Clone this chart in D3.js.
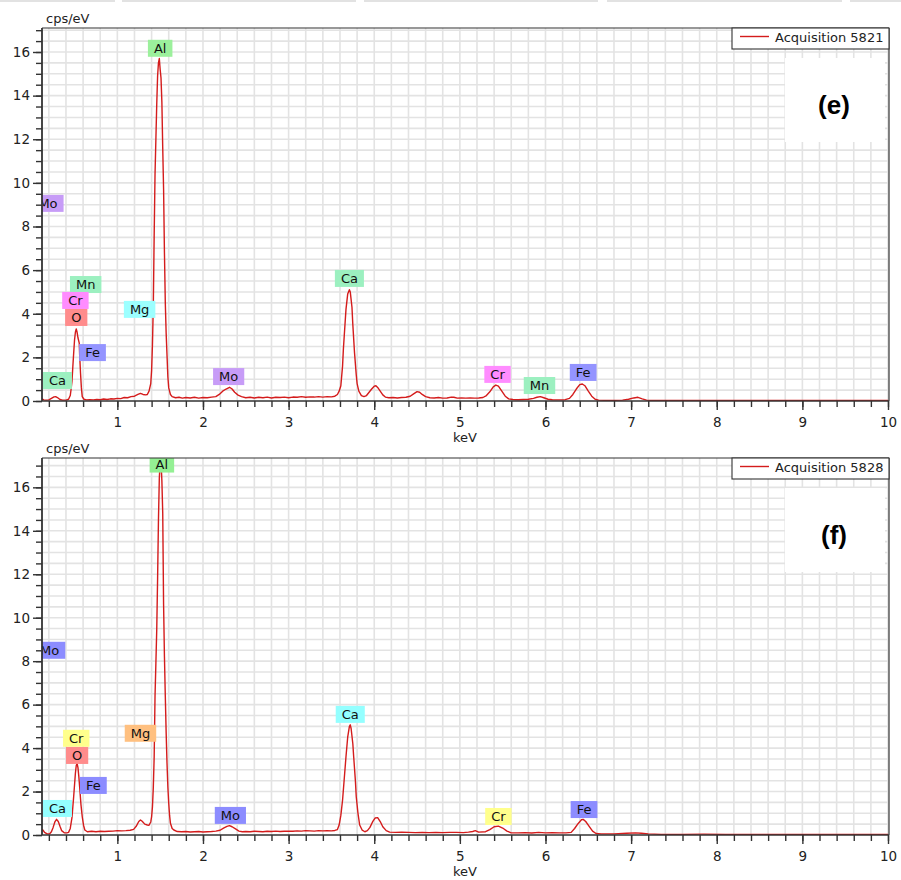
<!DOCTYPE html>
<html>
<head>
<meta charset="utf-8">
<script src="https://cdn.jsdelivr.net/npm/d3@7"></script>
<style>
  body { margin: 0; background: #fff; }
  svg { display: block; font-family: "DejaVu Sans", Verdana, sans-serif; }
</style>
</head>
<body>
<svg id="chart" width="901" height="880"></svg>
<script>
// axis ticks
const xTicks = [1, 2, 3, 4, 5, 6, 7, 8, 9, 10];
const yTicks = [0, 2, 4, 6, 8, 10, 12, 14, 16];

// spectrum (e) : [keV, cps/eV]
const spectrumE = [
  [0.12, 0.10], [0.14, 0.05], [0.17, 0.04], [0.20, 0.05], [0.23, 0.12], [0.26, 0.19], [0.28, 0.20], [0.30, 0.16],
  [0.33, 0.07], [0.36, 0.04], [0.40, 0.04], [0.43, 0.08], [0.45, 0.25], [0.46, 0.55], [0.47, 0.9], [0.48, 1.57],
  [0.49, 2.2], [0.50, 2.8], [0.51, 3.15], [0.52, 3.3], [0.53, 3.15], [0.54, 2.9], [0.555, 2.65], [0.56, 2.1],
  [0.57, 1.27], [0.58, 0.6], [0.59, 0.2], [0.61, 0.08], [0.64, 0.05], [0.68, 0.06], [0.72, 0.05], [0.76, 0.07],
  [0.80, 0.06], [0.84, 0.09], [0.88, 0.07], [0.92, 0.10], [0.96, 0.09], [1.00, 0.12], [1.04, 0.11], [1.08, 0.16],
  [1.12, 0.15], [1.16, 0.20], [1.20, 0.22], [1.24, 0.30], [1.27, 0.35], [1.30, 0.30], [1.33, 0.28], [1.35, 0.30],
  [1.37, 0.45], [1.39, 0.8], [1.40, 1.4], [1.41, 2.6], [1.42, 4.4], [1.43, 7.6], [1.44, 10.4], [1.45, 12.0],
  [1.46, 13.6], [1.47, 14.9], [1.48, 15.5], [1.49, 15.7], [1.50, 15.2], [1.51, 14.8], [1.52, 13.7], [1.53, 11.6],
  [1.54, 9.7], [1.55, 6.8], [1.56, 4.5], [1.57, 3.1], [1.58, 2.1], [1.59, 1.1], [1.60, 0.6], [1.62, 0.3],
  [1.64, 0.2], [1.68, 0.15], [1.72, 0.17], [1.76, 0.13], [1.80, 0.16], [1.85, 0.14], [1.90, 0.17], [1.95, 0.13],
  [2.00, 0.16], [2.05, 0.15], [2.10, 0.18], [2.15, 0.20], [2.19, 0.30], [2.23, 0.45], [2.27, 0.55], [2.31, 0.63],
  [2.34, 0.55], [2.37, 0.40], [2.41, 0.27], [2.45, 0.20], [2.50, 0.15], [2.55, 0.17], [2.60, 0.14], [2.65, 0.17],
  [2.70, 0.15], [2.75, 0.18], [2.80, 0.14], [2.85, 0.17], [2.90, 0.16], [2.95, 0.18], [3.00, 0.15], [3.05, 0.18],
  [3.10, 0.17], [3.15, 0.20], [3.20, 0.17], [3.25, 0.19], [3.30, 0.18], [3.35, 0.20], [3.40, 0.18], [3.45, 0.20],
  [3.50, 0.19], [3.54, 0.22], [3.57, 0.30], [3.59, 0.45], [3.61, 0.7], [3.63, 1.6], [3.64, 2.4], [3.65, 3.0],
  [3.67, 4.2], [3.69, 4.9], [3.71, 5.1], [3.72, 5.0], [3.74, 4.3], [3.75, 3.5], [3.77, 2.2], [3.79, 1.2],
  [3.80, 0.8], [3.82, 0.45], [3.85, 0.25], [3.88, 0.20], [3.91, 0.25], [3.94, 0.40], [3.97, 0.55], [4.00, 0.68],
  [4.02, 0.70], [4.04, 0.62], [4.07, 0.45], [4.10, 0.28], [4.13, 0.18], [4.17, 0.15], [4.22, 0.16], [4.27, 0.14],
  [4.32, 0.16], [4.37, 0.17], [4.42, 0.22], [4.46, 0.33], [4.50, 0.43], [4.53, 0.40], [4.56, 0.30], [4.60, 0.20],
  [4.65, 0.15], [4.70, 0.14], [4.75, 0.16], [4.80, 0.13], [4.85, 0.14], [4.90, 0.18], [4.93, 0.17], [4.97, 0.13],
  [5.02, 0.14], [5.07, 0.13], [5.12, 0.14], [5.17, 0.13], [5.22, 0.14], [5.27, 0.16], [5.31, 0.25], [5.35, 0.42],
  [5.39, 0.65], [5.42, 0.73], [5.45, 0.68], [5.49, 0.45], [5.53, 0.22], [5.57, 0.10], [5.62, 0.07], [5.68, 0.06],
  [5.74, 0.07], [5.80, 0.08], [5.86, 0.12], [5.90, 0.17], [5.94, 0.20], [5.98, 0.15], [6.03, 0.08], [6.08, 0.06],
  [6.13, 0.05], [6.18, 0.05], [6.23, 0.06], [6.28, 0.12], [6.32, 0.30], [6.36, 0.55], [6.40, 0.75], [6.43, 0.78],
  [6.46, 0.70], [6.50, 0.45], [6.54, 0.22], [6.58, 0.08], [6.62, 0.04], [6.70, 0.03], [6.80, 0.03], [6.90, 0.04],
  [6.97, 0.08], [7.03, 0.14], [7.08, 0.17], [7.13, 0.10], [7.18, 0.04], [7.30, 0.02], [7.50, 0.02], [7.70, 0.02],
  [7.90, 0.02], [8.20, 0.02], [8.50, 0.02], [8.80, 0.02], [9.10, 0.02], [9.40, 0.02], [9.70, 0.02], [10.0, 0.02]
];

// spectrum (f) : [keV, cps/eV]
const spectrumF = [
  [0.12, 0.25], [0.13, 0.23], [0.15, 0.12], [0.18, 0.05], [0.21, 0.06], [0.23, 0.15], [0.25, 0.35], [0.27, 0.6],
  [0.29, 0.72], [0.31, 0.62], [0.33, 0.40], [0.35, 0.20], [0.38, 0.10], [0.41, 0.10], [0.43, 0.12], [0.45, 0.3],
  [0.47, 0.8], [0.49, 1.77], [0.51, 2.84], [0.52, 3.2], [0.53, 3.3], [0.54, 3.1], [0.55, 2.7], [0.56, 2.2],
  [0.575, 1.4], [0.59, 0.84], [0.605, 0.45], [0.62, 0.23], [0.65, 0.15], [0.70, 0.17], [0.75, 0.15], [0.80, 0.17],
  [0.85, 0.16], [0.90, 0.17], [0.95, 0.18], [1.00, 0.20], [1.05, 0.19], [1.10, 0.20], [1.15, 0.22], [1.19, 0.26],
  [1.22, 0.40], [1.25, 0.62], [1.27, 0.69], [1.29, 0.63], [1.32, 0.50], [1.35, 0.46], [1.37, 0.45], [1.39, 0.60],
  [1.40, 0.84], [1.41, 1.3], [1.42, 2.2], [1.43, 3.6], [1.44, 6.4], [1.45, 7.9], [1.46, 9.45], [1.47, 11.8],
  [1.48, 14.5], [1.49, 16.4], [1.50, 17.2], [1.51, 17.2], [1.52, 16.3], [1.53, 14.8], [1.54, 10.6], [1.55, 8.2],
  [1.56, 6.4], [1.57, 4.7], [1.58, 3.3], [1.59, 2.2], [1.60, 1.46], [1.61, 0.9], [1.62, 0.54], [1.64, 0.30],
  [1.66, 0.23], [1.70, 0.16], [1.75, 0.15], [1.80, 0.16], [1.85, 0.14], [1.90, 0.15], [1.95, 0.16], [2.00, 0.14],
  [2.05, 0.15], [2.10, 0.16], [2.15, 0.18], [2.20, 0.22], [2.24, 0.32], [2.28, 0.40], [2.31, 0.43], [2.34, 0.38],
  [2.38, 0.28], [2.42, 0.18], [2.46, 0.15], [2.50, 0.16], [2.55, 0.15], [2.60, 0.17], [2.65, 0.16], [2.70, 0.15],
  [2.75, 0.17], [2.80, 0.16], [2.85, 0.18], [2.90, 0.16], [2.95, 0.17], [3.00, 0.18], [3.05, 0.17], [3.10, 0.19],
  [3.15, 0.18], [3.20, 0.20], [3.25, 0.19], [3.30, 0.18], [3.35, 0.20], [3.40, 0.19], [3.45, 0.20], [3.50, 0.19],
  [3.54, 0.21], [3.57, 0.25], [3.59, 0.46], [3.61, 0.9], [3.63, 1.6], [3.65, 2.6], [3.67, 3.6], [3.69, 4.5],
  [3.71, 5.0], [3.72, 5.07], [3.73, 4.9], [3.75, 4.2], [3.76, 3.6], [3.78, 2.5], [3.79, 1.76], [3.81, 1.0],
  [3.83, 0.46], [3.86, 0.22], [3.89, 0.15], [3.92, 0.20], [3.95, 0.35], [3.98, 0.60], [4.01, 0.78], [4.04, 0.80],
  [4.07, 0.62], [4.10, 0.38], [4.14, 0.20], [4.18, 0.13], [4.25, 0.12], [4.32, 0.13], [4.40, 0.12], [4.48, 0.11],
  [4.56, 0.12], [4.64, 0.11], [4.72, 0.12], [4.80, 0.11], [4.88, 0.12], [4.96, 0.12], [5.04, 0.11], [5.10, 0.13],
  [5.15, 0.16], [5.18, 0.20], [5.22, 0.13], [5.30, 0.15], [5.35, 0.25], [5.40, 0.38], [5.45, 0.41], [5.50, 0.32],
  [5.55, 0.18], [5.60, 0.10], [5.68, 0.10], [5.76, 0.11], [5.84, 0.09], [5.92, 0.12], [6.00, 0.10], [6.08, 0.11],
  [6.16, 0.10], [6.24, 0.10], [6.30, 0.12], [6.34, 0.30], [6.38, 0.52], [6.42, 0.70], [6.44, 0.72], [6.47, 0.62],
  [6.51, 0.40], [6.55, 0.18], [6.59, 0.07], [6.65, 0.05], [6.80, 0.05], [6.95, 0.08], [7.05, 0.10], [7.12, 0.08],
  [7.20, 0.05], [7.35, 0.03], [7.60, 0.03], [7.85, 0.04], [8.10, 0.03], [8.40, 0.03], [8.70, 0.03], [9.00, 0.03],
  [9.30, 0.03], [9.60, 0.03], [10.0, 0.03]
];

// peak identification labels : element, keV, cps/eV at label base
const labelsE = [
  ["Mo", 0.19, 8.67], ["Mn", 0.63, 4.95], ["Cr", 0.51, 4.22], ["O", 0.52, 3.44], ["Fe", 0.71, 1.83],
  ["Ca", 0.30, 0.55], ["Mg", 1.26, 3.81], ["Al", 1.50, 15.78], ["Mo", 2.30, 0.73], ["Ca", 3.71, 5.23],
  ["Cr", 5.44, 0.83], ["Mn", 5.93, 0.32], ["Fe", 6.44, 0.92]
];
const labelsF = [
  ["Mo", 0.21, 8.11], ["Cr", 0.52, 4.06], ["O", 0.53, 3.27], ["Fe", 0.72, 1.89], ["Ca", 0.30, 0.83],
  ["Mg", 1.27, 4.29], ["Al", 1.52, 16.68], ["Mo", 2.32, 0.51], ["Ca", 3.72, 5.16], ["Cr", 5.45, 0.46],
  ["Fe", 6.45, 0.78]
];

const coloursE = { Al: "#9cf09c", Mo: "#c79cf7", Mn: "#9cf0c0", Cr: "#ff8cff", O: "#ff8c8c", Fe: "#9494ff", Ca: "#9cf0c0", Mg: "#9cffff" };
const coloursF = { Al: "#94f094", Mo: "#8c8cff", Cr: "#ffff8c", O: "#ff8c8c", Fe: "#8c8cff", Ca: "#94ffff", Mg: "#ffc080" };

const svg = d3.select("#chart");

// faint strip at the very top of the screenshot
[[0, 115], [122, 356], [364, 598], [607, 842], [850, 901]].forEach(s => {
  svg.append("rect").attr("x", s[0]).attr("y", 0).attr("width", s[1] - s[0]).attr("height", 2).attr("fill", "#e2e2e2");
});

function drawPanel(p) {
  const left = 42, right = 888;
  const x = d3.scaleLinear().domain([0.12, 10]).range([left, right]);
  const y = d3.scaleLinear().domain([0, p.yMax]).range([p.bottom, p.top]);
  const g = svg.append("g");

  const clipId = "clip-" + p.id;
  g.append("clipPath").attr("id", clipId)
    .append("rect").attr("x", left).attr("y", p.top).attr("width", right - left).attr("height", p.bottom - p.top);

  // grid
  const xGrid = d3.range(0.2, 10.001, 0.2);
  const yGrid = d3.range(0.5, p.yMax, 0.5);
  g.append("g").selectAll("line").data(xGrid).join("line")
    .attr("x1", d => x(d)).attr("x2", d => x(d)).attr("y1", p.top).attr("y2", p.bottom)
    .attr("stroke", "#e3e3e3").attr("stroke-width", 1.6);
  g.append("g").selectAll("line").data(yGrid).join("line")
    .attr("x1", left).attr("x2", right).attr("y1", d => y(d)).attr("y2", d => y(d))
    .attr("stroke", "#e3e3e3").attr("stroke-width", 1.6);

  // white panel behind the tag
  g.append("rect").attr("x", 785).attr("y", p.top + 30).attr("width", 100).attr("height", 84).attr("fill", "#fff");

  // spectrum
  const line = d3.line().x(d => x(d[0])).y(d => y(d[1]));
  g.append("path").datum(p.spectrum)
    .attr("clip-path", `url(#${clipId})`)
    .attr("d", line).attr("fill", "none")
    .attr("stroke", "#d41c1c").attr("stroke-width", 1.4).attr("stroke-linejoin", "round");

  // element labels
  const lab = g.append("g").attr("clip-path", `url(#${clipId})`);
  p.labels.forEach(l => {
    const cx = x(l[1]), by = y(l[2]);
    const lg = lab.append("g");
    const r = lg.append("rect");
    const t = lg.append("text").text(l[0]).attr("x", cx).attr("y", by - 4)
      .attr("text-anchor", "middle").attr("font-size", 13).attr("fill", "#111");
    const w = t.node().getComputedTextLength() + 12;
    r.attr("x", cx - w / 2).attr("y", by - 17).attr("width", w).attr("height", 17).attr("fill", p.colours[l[0]]);
  });

  // axes
  const yMinor = d3.axisLeft(y).tickValues(d3.range(0, p.yMax, 0.5)).tickSize(6).tickFormat("").tickSizeOuter(0);
  const yMajor = d3.axisLeft(y).tickValues(yTicks).tickSize(9).tickPadding(3).tickSizeOuter(0);
  const xMinor = d3.axisBottom(x).tickValues(xGrid).tickSize(6).tickFormat("").tickSizeOuter(0);
  const xMajor = d3.axisBottom(x).tickValues(xTicks).tickSize(9).tickPadding(7).tickSizeOuter(0);

  [yMinor, yMajor].forEach(a => {
    g.append("g").attr("transform", `translate(${left},0)`).call(a)
      .call(s => s.select(".domain").remove())
      .call(s => s.selectAll("line").attr("stroke", "#333").attr("stroke-width", 1.4))
      .call(s => s.selectAll("text").attr("font-size", 13.5).attr("fill", "#222").attr("font-family", "DejaVu Sans"));
  });
  [xMinor, xMajor].forEach(a => {
    g.append("g").attr("transform", `translate(0,${p.bottom})`).call(a)
      .call(s => s.select(".domain").remove())
      .call(s => s.selectAll("line").attr("stroke", "#333").attr("stroke-width", 1.4))
      .call(s => s.selectAll("text").attr("font-size", 13.5).attr("fill", "#222").attr("font-family", "DejaVu Sans"));
  });

  // frame
  g.append("line").attr("x1", left).attr("x2", left).attr("y1", p.top).attr("y2", p.bottom).attr("stroke", "#333").attr("stroke-width", 1.8);
  g.append("line").attr("x1", left).attr("x2", right + 1).attr("y1", p.bottom).attr("y2", p.bottom).attr("stroke", "#333").attr("stroke-width", 1.4);
  g.append("line").attr("x1", left).attr("x2", right + 1).attr("y1", p.top).attr("y2", p.top).attr("stroke", "#333").attr("stroke-width", 1.2);
  g.append("line").attr("x1", right + 1).attr("x2", right + 1).attr("y1", p.top).attr("y2", p.bottom).attr("stroke", "#333").attr("stroke-width", 1.2);

  // axis titles
  g.append("text").attr("x", 46).attr("y", p.top - 5.5).attr("font-size", 13).attr("fill", "#222").text("cps/eV");
  g.append("text").attr("x", (left + right) / 2).attr("y", p.bottom + 41).attr("text-anchor", "middle")
    .attr("font-size", 13).attr("fill", "#222").text("keV");

  // legend
  g.append("rect").attr("x", 732).attr("y", p.top).attr("width", 157).attr("height", 21)
    .attr("fill", "#fff").attr("stroke", "#333").attr("stroke-width", 1.1);
  g.append("line").attr("x1", 740).attr("x2", 769).attr("y1", p.top + 8.5).attr("y2", p.top + 8.5)
    .attr("stroke", "#d41c1c").attr("stroke-width", 1.4);
  g.append("text").attr("x", 775).attr("y", p.top + 14).attr("font-size", 13).attr("fill", "#222").text(p.legend);

  // panel tag
  g.append("text").attr("x", 834).attr("y", p.top + 86).attr("text-anchor", "middle")
    .attr("font-family", "Liberation Sans, Arial, sans-serif").attr("font-weight", "bold")
    .attr("font-size", 26).attr("fill", "#000").text(p.tag);
}

drawPanel({ id: "e", top: 28, bottom: 401, yMax: 17.1, spectrum: spectrumE, labels: labelsE, colours: coloursE, legend: "Acquisition 5821", tag: "(e)" });
drawPanel({ id: "f", top: 458, bottom: 835, yMax: 17.35, spectrum: spectrumF, labels: labelsF, colours: coloursF, legend: "Acquisition 5828", tag: "(f)" });
</script>
</body>
</html>
